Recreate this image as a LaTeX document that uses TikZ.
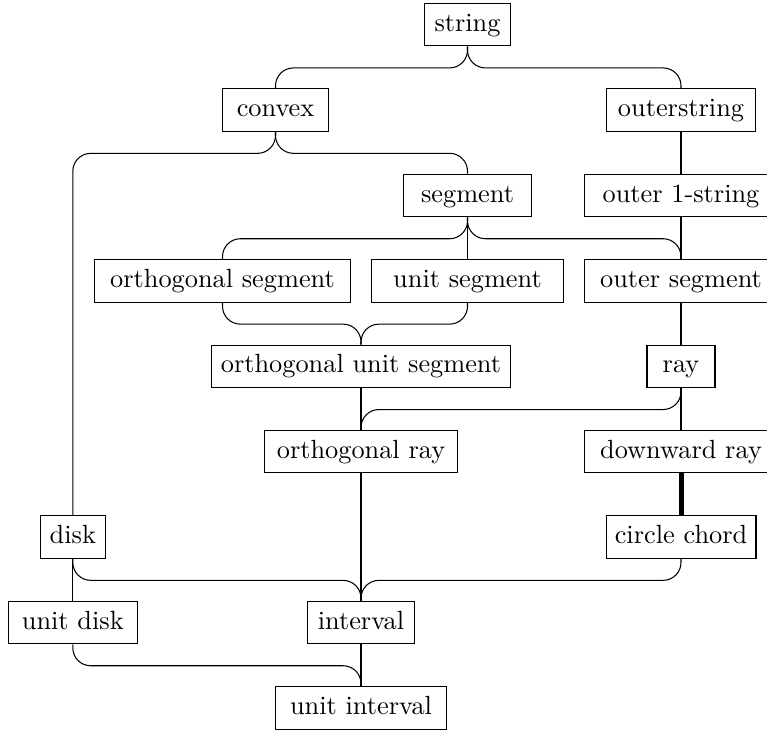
\documentclass[tikz,border=0pt]{standalone}
\tikzset{
  box/.style={draw, rectangle, text height=7pt, text depth=2pt, minimum height=16.15pt, inner sep=3.33pt},
  conn/.style={rounded corners=6.8pt},
  strong/.style={line width=1.9pt}
}
\newcommand{\brc}[2]{\draw[conn] (#1.south) -- ++(0,-8.15pt) -| (#2.north);}
\begin{document}
\begin{tikzpicture}[x=0.38pt, y=-0.38pt]
\useasboundingbox (0,0) rectangle (767,730);
% columns: A=72.8 B=222.5 C=275.5 D=361 E=467.5 F=681
\node[box, minimum width=32.95pt] (string) at (467.5,24.7) {string};
\node[box, minimum width=40.55pt] (convex) at (275.5,110.1) {convex};
\node[box, minimum width=56.85pt] (outerstring) at (681,110.1) {outerstring};
\node[box, minimum width=48.53pt] (segment) at (467.5,195.5) {segment};
\node[box, minimum width=73.49pt] (outerone) at (681,195.5) {outer 1-string};
\node[box, minimum width=97.17pt] (orthseg) at (222.5,280.9) {orthogonal segment};
\node[box, minimum width=72.96pt] (unitseg) at (467.5,280.9) {unit segment};
\node[box, minimum width=73.49pt] (outerseg) at (681,280.9) {outer segment};
\node[box, minimum width=113.62pt] (orthunitseg) at (361,366.3) {orthogonal unit segment};
\node[box, minimum width=25.84pt] (ray) at (681,366.3) {ray};
\node[box, minimum width=73.34pt] (orthray) at (361,451.7) {orthogonal ray};
\node[box, minimum width=73.49pt] (downray) at (681,451.7) {downward ray};
\node[box, minimum width=24.55pt] (disk) at (72.8,537.1) {disk};
\node[box, minimum width=56.73pt] (chord) at (681,537.1) {circle chord};
\node[box, minimum width=48.91pt] (unitdisk) at (72.8,622.5) {unit disk};
\node[box, minimum width=40.51pt] (interval) at (361,622.5) {interval};
\node[box, minimum width=64.71pt] (unitinterval) at (361,707.9) {unit interval};
% curved connectors
\brc{string}{convex}
\brc{string}{outerstring}
\brc{convex}{disk}
\brc{convex}{segment}
\brc{segment}{orthseg}
\brc{segment}{outerseg}
\brc{orthseg}{orthunitseg}
\brc{unitseg}{orthunitseg}
\brc{ray}{orthray}
\brc{disk}{interval}
\brc{chord}{interval}
\brc{unitdisk}{unitinterval}
% straight connectors
\draw (outerstring) -- (outerone);
\draw (outerone) -- (outerseg);
\draw (segment) -- (unitseg);
\draw (outerseg) -- (ray);
\draw (ray) -- (downray);
\draw[strong] (downray) -- (chord);
\draw (orthunitseg) -- (orthray);
\draw (orthray) -- (interval);
\draw (disk) -- (unitdisk);
\draw (interval) -- (unitinterval);
\end{tikzpicture}
\end{document}
